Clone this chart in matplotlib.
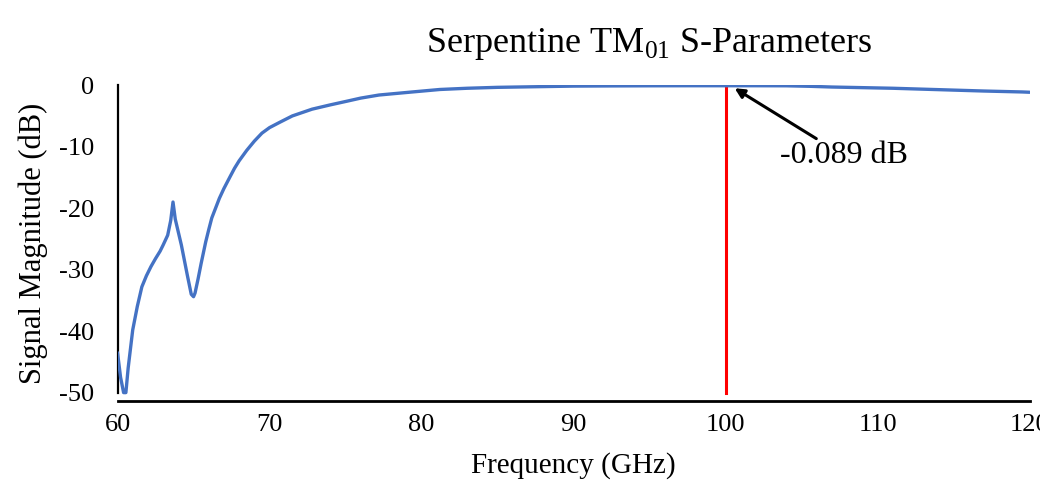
import matplotlib
matplotlib.use("Agg")
import matplotlib.pyplot as plt

# S21 of the serpentine
freq_ghz = [60.0, 60.2, 60.4, 60.55, 60.7, 61.0, 61.3, 61.6, 61.9, 62.2, 62.5,
            62.8, 63.0, 63.3, 63.5, 63.65, 63.8, 64.2, 64.6, 64.85, 65.0, 65.1, 65.3,
            65.5, 65.8, 66.0, 66.2, 66.45, 66.7, 67.0, 67.4, 67.7, 68.0, 68.5,
            69.0, 69.5, 70.0, 70.7, 71.5, 72.8, 74.0, 75.1, 76.0, 77.2, 78.3,
            79.4, 81.2, 83.0, 85.0, 87.5, 90.0, 92.5, 95.0, 97.5, 100.0, 102.0,
            104.0, 105.5, 107.0, 109.0, 111.0, 113.0, 115.0, 117.0, 119.5, 120.0]
mag_db = [-43.5, -47.5, -50.0, -50.0, -46.0, -39.8, -36.0, -32.8, -31.0, -29.5, -28.2,
          -27.0, -26.0, -24.4, -22.0, -19.0, -21.8, -26.0, -31.0, -34.0, -34.4, -33.8, -31.5,
          -29.0, -25.5, -23.5, -21.6, -20.0, -18.4, -16.8, -14.9, -13.5, -12.3, -10.6,
          -9.1, -7.8, -6.9, -6.0, -5.0, -3.9, -3.2, -2.6, -2.1, -1.6, -1.35,
          -1.1, -0.7, -0.5, -0.35, -0.25, -0.15, -0.12, -0.1, -0.09, -0.089, -0.09,
          -0.1, -0.18, -0.3, -0.4, -0.5, -0.65, -0.8, -0.95, -1.1, -1.15]

marker_freq = 100
x_ticks = [60, 70, 80, 90, 100, 110, 120]
y_ticks = [-50, -40, -30, -20, -10, 0]

plt.rcParams['font.family'] = ['Liberation Serif', 'DejaVu Serif']
plt.rcParams['mathtext.fontset'] = 'custom'
plt.rcParams['mathtext.rm'] = 'Liberation Serif'
plt.rcParams['axes.unicode_minus'] = False

fig = plt.figure(figsize=(10.4, 4.84), dpi=100)
ax = fig.add_axes([0.113, 0.171, 0.877, 0.653])

ax.plot(freq_ghz, mag_db, color='#4472C4', lw=2.4, solid_joinstyle='round',
        solid_capstyle='round', zorder=3)
ax.plot([marker_freq, marker_freq], [-50, 0], color='#FF0000', lw=2.2, zorder=2)

ax.annotate('-0.089 dB', xy=(100.6, -0.5), xytext=(103.6, -11.5),
            fontsize=23, va='center', ha='left',
            arrowprops=dict(arrowstyle='-|>', color='black', lw=2.2,
                            mutation_scale=14, shrinkA=0, shrinkB=0))

ax.set_xlim(60, 120)
ax.set_ylim(-51.4, 0)
ax.set_xticks(x_ticks)
ax.set_yticks(y_ticks)
ax.tick_params(axis='both', length=0, labelsize=19)
ax.tick_params(axis='x', pad=9)
ax.tick_params(axis='y', pad=17)

for s in ['top', 'right']:
    ax.spines[s].set_visible(False)
ax.spines['left'].set_bounds(-50, 0)
ax.spines['left'].set_linewidth(1.6)
ax.spines['bottom'].set_linewidth(2.0)

ax.set_xlabel('Frequency (GHz)', fontsize=21, labelpad=12)
ax.set_ylabel('Signal Magnitude (dB)', fontsize=22, labelpad=8)
fig.text(0.624, 0.91, r'Serpentine TM$_{\mathregular{01}}$ S-Parameters',
         fontsize=26, ha='center', va='center')

fig.savefig('out.png', dpi=100)
